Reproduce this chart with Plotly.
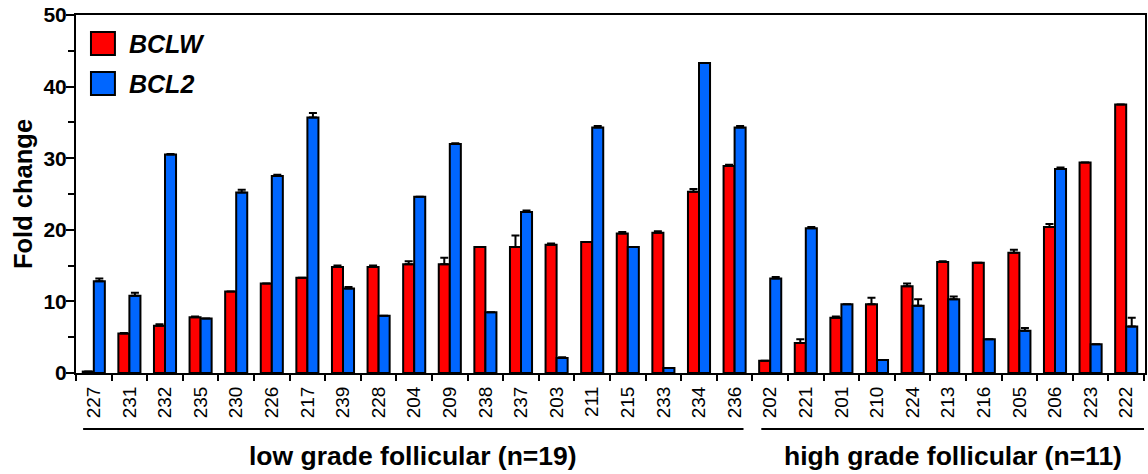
import plotly.graph_objects as go

# Sample identifiers, in plotting order
samples = ["227", "231", "232", "235", "230", "226", "217", "239", "228", "204",
           "209", "238", "237", "203", "211", "215", "233", "234", "236",
           "202", "221", "201", "210", "224", "213", "216", "205", "206", "223", "222"]

# Group definitions (label, number of samples)
group_labels = ["low grade follicular (n=19)", "high grade follicular (n=11)"]
group_sizes = [19, 11]

# Fold change values
bclw = [0.2, 5.5, 6.6, 7.8, 11.4, 12.5, 13.3, 14.8, 14.8, 15.2,
        15.2, 17.6, 17.6, 17.9, 18.3, 19.5, 19.6, 25.3, 28.9,
        1.7, 4.2, 7.7, 9.6, 12.1, 15.5, 15.4, 16.8, 20.4, 29.4, 37.5]
bcl2 = [12.8, 10.8, 30.5, 7.6, 25.2, 27.5, 35.7, 11.8, 8.0, 24.6,
        32.0, 8.5, 22.5, 2.1, 34.3, 17.6, 0.7, 43.3, 34.3,
        13.2, 20.2, 9.6, 1.8, 9.4, 10.3, 4.7, 5.9, 28.5, 4.0, 6.5]

# Upper error (SEM)
bclw_err = [0.0, 0.1, 0.2, 0.1, 0.0, 0.0, 0.0, 0.2, 0.2, 0.4,
            0.9, 0.0, 1.6, 0.2, 0.0, 0.2, 0.2, 0.4, 0.2,
            0.0, 0.5, 0.2, 0.9, 0.4, 0.1, 0.0, 0.4, 0.4, 0.0, 0.0]
bcl2_err = [0.4, 0.4, 0.1, 0.0, 0.4, 0.2, 0.6, 0.2, 0.0, 0.0,
            0.1, 0.0, 0.2, 0.1, 0.2, 0.0, 0.0, 0.0, 0.2,
            0.2, 0.2, 0.0, 0.0, 0.9, 0.4, 0.0, 0.4, 0.2, 0.0, 1.2]

RED = "#FF0000"
BLUE = "#0066FF"
FONT = "Liberation Sans"

fig = go.Figure()
for name, vals, errs, col in [("BCLW", bclw, bclw_err, RED), ("BCL2", bcl2, bcl2_err, BLUE)]:
    fig.add_trace(go.Bar(
        x=samples, y=vals, name=name,
        marker=dict(color=col, line=dict(color="black", width=2)),
        error_y=dict(type="data", array=errs, arrayminus=[0] * len(errs), symmetric=False,
                     color="black", thickness=2, width=4),
        showlegend=False,
    ))

W, H = 1148, 474
L, R, T, B = 76, 1, 15, 101
pw, ph = W - L - R, H - T - B


def px(x):
    return (x - L) / pw


def py(y):
    return (H - B - y) / ph


shapes = []
annotations = []

# Legend: swatches + italic gene names
for i, (name, col) in enumerate([("BCLW", RED), ("BCL2", BLUE)]):
    y0 = 32 + i * 40
    shapes.append(dict(type="rect", xref="paper", yref="paper",
                       x0=px(91), x1=px(115), y0=py(y0 + 23), y1=py(y0),
                       fillcolor=col, line=dict(color="black", width=2)))
    annotations.append(dict(xref="paper", yref="paper", x=px(127), y=py(y0 + 11.5),
                            text=name, showarrow=False, xanchor="left", yanchor="middle",
                            font=dict(family=FONT, size=25, color="black",
                                      weight="bold", style="italic")))

# Group brackets under the category labels
start = 0
for k, (lab, n) in enumerate(zip(group_labels, group_sizes)):
    x0 = start - 0.3 if k == 0 else start - 0.25
    x1 = start + n - 1 + 0.25 if k == 0 else start + n - 0.5
    shapes.append(dict(type="line", xref="x", yref="paper", x0=x0, x1=x1,
                       y0=py(429), y1=py(429), line=dict(color="black", width=2)))
    annotations.append(dict(xref="x", yref="paper", x=(x0 + x1) / 2, y=py(456),
                            text=lab, showarrow=False, xanchor="center", yanchor="middle",
                            font=dict(family=FONT, size=26.5, color="black", weight="bold")))
    start += n

fig.update_layout(
    width=W, height=H,
    margin=dict(l=L, r=R, t=T, b=B, pad=0),
    paper_bgcolor="white", plot_bgcolor="white",
    barmode="group", bargap=0.38, bargroupgap=0,
    font=dict(family=FONT, color="black"),
    shapes=shapes, annotations=annotations,
    showlegend=False,
)
fig.update_xaxes(
    type="category", tickangle=-90,
    tickfont=dict(family=FONT, size=19, color="black"),
    ticks="outside", tickson="boundaries", ticklen=6, tickwidth=2, tickcolor="black",
    showline=True, linecolor="black", linewidth=2, mirror=True,
    showgrid=False, zeroline=False, ticklabelstandoff=4,
)
fig.update_yaxes(
    range=[0, 50], dtick=10, tick0=0,
    tickfont=dict(family=FONT, size=21, color="black", weight="bold"),
    ticks="outside", ticklen=8, tickwidth=2, tickcolor="black",
    minor=dict(dtick=5, ticks="outside", ticklen=6, tickwidth=2, tickcolor="black", showgrid=False),
    showline=True, linecolor="black", linewidth=2, mirror=True,
    showgrid=False, zeroline=False, ticklabelstandoff=-5,
    title=dict(text="Fold change", standoff=4,
               font=dict(family=FONT, size=25.5, color="black", weight="bold")),
)

fig.write_html("out.html")
